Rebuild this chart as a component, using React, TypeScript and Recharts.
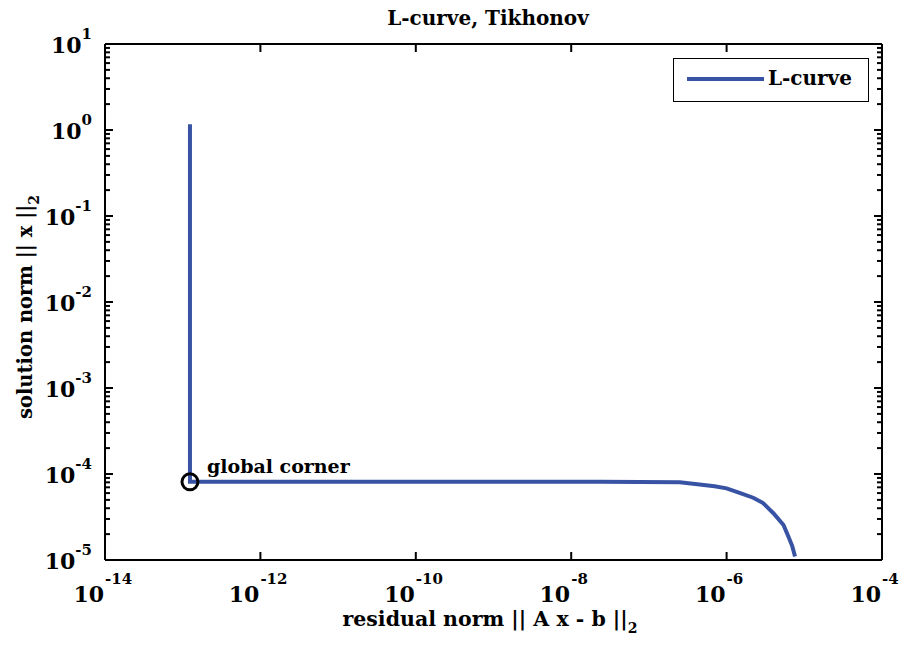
import React from 'react';
import { LineChart, Line, XAxis, YAxis, ReferenceDot } from 'recharts';

// L-curve points (residual norm, solution norm)
const residualNorm = [
  1.24e-13, 1.24e-13, 1.24e-13, 1e-9, 2.3e-8, 2.5e-7, 4.2e-7, 7.0e-7, 1.0e-6,
  1.5e-6, 2.2e-6, 2.95e-6, 4.0e-6, 5.4e-6, 6.2e-6, 7.0e-6, 7.6e-6,
];
const solutionNorm = [
  1.17, 1e-2, 8.1e-5, 8.1e-5, 8.1e-5, 8.0e-5, 7.6e-5, 7.2e-5, 6.8e-5, 6.0e-5,
  5.3e-5, 4.6e-5, 3.5e-5, 2.55e-5, 1.9e-5, 1.45e-5, 1.1e-5,
];

const corner = { x: 1.24e-13, y: 8.1e-5 };

const xDecades = [-14, -12, -10, -8, -6, -4];
const yDecades = [1, 0, -1, -2, -3, -4, -5];
const minorMult = [2, 3, 4, 5, 6, 7, 8, 9];

const data = residualNorm.map((r, i) => ({ r, s: solutionNorm[i] }));

const yTicks: number[] = [];
yDecades.forEach((d) => {
  yTicks.push(Math.pow(10, d));
  if (d < 1) minorMult.forEach((m) => yTicks.push(m * Math.pow(10, d)));
});
const xTicks = xDecades.map((d) => Math.pow(10, d));

const W = 899;
const H = 647;
const LEFT = 105;
const RIGHT = 882;
const TOP = 44;
const BOTTOM = 560;
const FONT = 'DejaVu Serif';
const BLUE = '#3953a4';
const AXIS = { stroke: '#000', strokeWidth: 2 };

const isDecade = (v: number) => {
  const l = Math.log10(v);
  return Math.abs(l - Math.round(l)) < 1e-6;
};

const YTick = (props: any) => {
  const { y, payload } = props;
  const v = payload.value;
  const major = isDecade(v);
  const len = major ? 8 : 5;
  return (
    <g>
      <path d={`M${LEFT},${y}H${LEFT + len}`} stroke="#000" strokeWidth={2} />
      <path d={`M${RIGHT},${y}H${RIGHT - len}`} stroke="#000" strokeWidth={2} />
      {major && (
        <text
          x={92}
          y={y + 9}
          textAnchor="end"
          fontFamily={FONT}
          fontWeight="bold"
          fontSize={22}
          fill="#000"
        >
          10
          <tspan dy={-14} fontSize={15}>
            {Math.round(Math.log10(v))}
          </tspan>
        </text>
      )}
    </g>
  );
};

const XTick = (props: any) => {
  const { x, payload } = props;
  const exp = Math.round(Math.log10(payload.value));
  return (
    <g>
      <path d={`M${x},${BOTTOM}V${BOTTOM - 8}`} stroke="#000" strokeWidth={2} />
      <path d={`M${x},${TOP}V${TOP + 8}`} stroke="#000" strokeWidth={2} />
      <text
        x={x - 1}
        y={602}
        textAnchor="end"
        fontFamily={FONT}
        fontWeight="bold"
        fontSize={22}
        fill="#000"
      >
        10
      </text>
      <text
        x={x}
        y={584}
        textAnchor="start"
        fontFamily={FONT}
        fontWeight="bold"
        fontSize={15}
        fill="#000"
      >
        {exp}
      </text>
    </g>
  );
};

const LegendBox = () => (
  <div
    style={{
      position: 'absolute',
      left: 673,
      top: 58,
      width: 196,
      height: 44,
      border: '1.5px solid #000',
      background: '#fff',
      boxSizing: 'border-box',
    }}
  >
    <div
      style={{
        position: 'absolute',
        left: 13,
        top: 18,
        width: 77,
        height: 4,
        background: BLUE,
      }}
    />
    <span
      style={{
        position: 'absolute',
        left: 94,
        top: 7,
        fontFamily: FONT,
        fontWeight: 'bold',
        fontSize: 20,
        lineHeight: '24px',
        color: '#000',
      }}
    >
      L-curve
    </span>
  </div>
);

const CornerLabel = (props: any) => {
  const { viewBox } = props;
  const cx = viewBox.x + viewBox.width / 2;
  const cy = viewBox.y + viewBox.height / 2;
  return (
    <text
      x={cx + 17}
      y={cy - 9}
      fontFamily={FONT}
      fontWeight="bold"
      fontSize={19}
      fill="#000"
    >
      global corner
    </text>
  );
};

const App = () => {
  return (
    <div style={{ position: 'absolute', left: 0, top: 0, width: W, height: H, background: '#fff' }}>
      <LineChart
        width={W}
        height={H}
        data={data}
        margin={{ top: TOP - 1, right: W - RIGHT - 1, bottom: H - BOTTOM - 1, left: LEFT - 1 }}
      >
        <XAxis
          dataKey="r"
          type="number"
          scale="log"
          domain={[1e-14, 1e-4]}
          allowDataOverflow
          ticks={xTicks}
          interval={0}
          height={1}
          tickSize={0}
          tickMargin={0}
          tickLine={false}
          axisLine={AXIS}
          tick={<XTick />}
        />
        <XAxis
          xAxisId="top"
          orientation="top"
          type="number"
          scale="log"
          domain={[1e-14, 1e-4]}
          allowDataOverflow
          height={1}
          tick={false}
          tickLine={false}
          axisLine={AXIS}
        />
        <YAxis
          dataKey="s"
          type="number"
          scale="log"
          domain={[1e-5, 10]}
          allowDataOverflow
          ticks={yTicks}
          interval={0}
          width={1}
          tickSize={0}
          tickMargin={0}
          tickLine={false}
          axisLine={AXIS}
          tick={<YTick />}
        />
        <YAxis
          yAxisId="right"
          orientation="right"
          type="number"
          scale="log"
          domain={[1e-5, 10]}
          allowDataOverflow
          width={1}
          tick={false}
          tickLine={false}
          axisLine={AXIS}
        />
        <Line
          type="linear"
          dataKey="s"
          stroke={BLUE}
          strokeWidth={4}
          dot={false}
          isAnimationActive={false}
        />
        <ReferenceDot
          x={corner.x}
          y={corner.y}
          r={8}
          fill="none"
          stroke="#000"
          strokeWidth={3}
          label={<CornerLabel />}
        />
        <text
          x={488}
          y={25}
          textAnchor="middle"
          fontFamily={FONT}
          fontWeight="bold"
          fontSize={20}
          fill="#000"
        >
          L-curve, Tikhonov
        </text>
        <text
          x={490}
          y={626}
          textAnchor="middle"
          fontFamily={FONT}
          fontWeight="bold"
          fontSize={20.5}
          fill="#000"
        >
          residual norm || A x - b ||
          <tspan dy={7} fontSize={14}>
            2
          </tspan>
        </text>
        <text
          transform="translate(32,307) rotate(-90)"
          x={0}
          y={0}
          textAnchor="middle"
          fontFamily={FONT}
          fontWeight="bold"
          fontSize={19.5}
          fill="#000"
        >
          solution norm || x ||
          <tspan dy={7} fontSize={14}>
            2
          </tspan>
        </text>
      </LineChart>
      <LegendBox />
    </div>
  );
};

export default App;
